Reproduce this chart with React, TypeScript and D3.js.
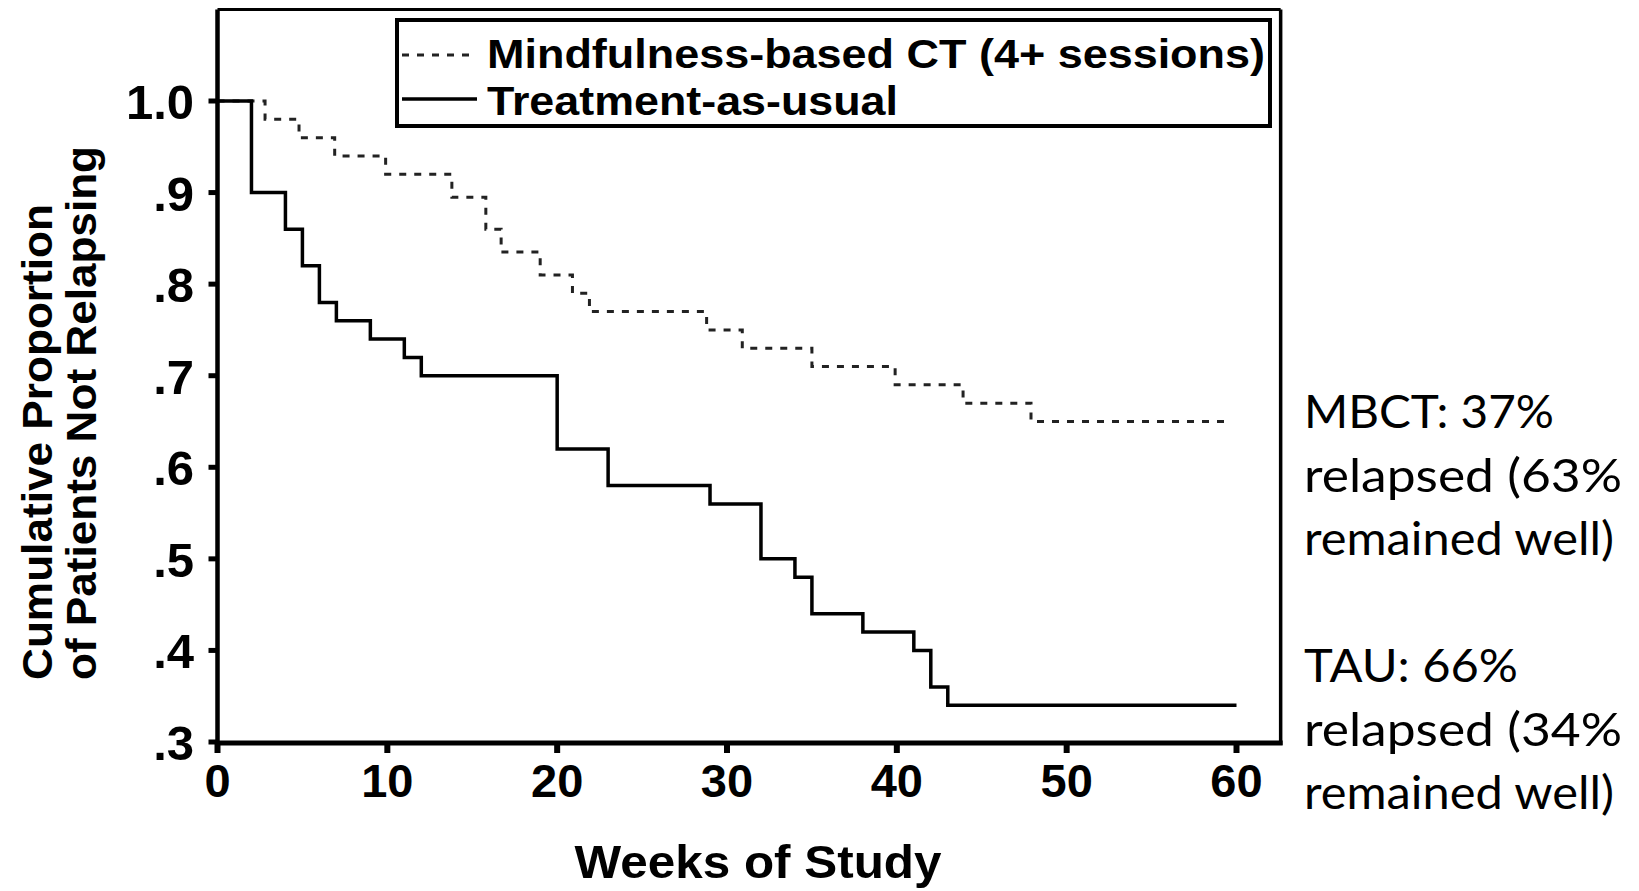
import React from 'react'
import * as d3 from 'd3'

// survival curves (weeks, proportion not relapsing)
const tauWeeks = [0, 2, 4, 5, 6, 7, 9, 11, 12, 20, 23, 29, 32, 34, 35, 38, 41, 42, 43, 60]
const tauValues = [1.0, 0.9, 0.86, 0.82, 0.78, 0.76, 0.74, 0.72, 0.7, 0.62, 0.58, 0.56, 0.5, 0.48, 0.44, 0.42, 0.4, 0.36, 0.34, 0.34]

const mbctWeeks = [0, 2.8, 4.8, 6.9, 9.9, 13.8, 15.8, 16.7, 19, 20.9, 21.9, 28.8, 30.9, 35, 39.9, 43.9, 47.9, 59.5]
const mbctValues = [1.0, 0.98, 0.96, 0.94, 0.92, 0.895, 0.86, 0.835, 0.81, 0.79, 0.77, 0.75, 0.73, 0.71, 0.69, 0.67, 0.65, 0.65]

const xTicks = [0, 10, 20, 30, 40, 50, 60]
const yTicks = [0.3, 0.4, 0.5, 0.6, 0.7, 0.8, 0.9, 1.0]
const yTickLabels = ['.3', '.4', '.5', '.6', '.7', '.8', '.9', '1.0']

const legendLabels = ['Mindfulness-based CT (4+ sessions)', 'Treatment-as-usual']
const noteLines = ['MBCT: 37%', 'relapsed (63%', 'remained well)', '', 'TAU: 66%', 'relapsed (34%', 'remained well)']

const W = 1639, H = 891
const BOLD = "'Liberation Sans', Arial, Helvetica, sans-serif"

const x = d3.scaleLinear().domain([0, 60]).range([217.5, 1236.5])
const y = d3.scaleLinear().domain([0.3, 1.0]).range([742, 101])

const stepLine = d3.line<[number, number]>()
    .x(d => x(d[0]))
    .y(d => y(d[1]))
    .curve(d3.curveStepAfter)

const Frame = () => {
    const left = x(0), right = x(62.6), top = y(1.1), bottom = y(0.3) + 1
    return (
        <g stroke="#000" fill="none">
            <line x1={left} y1={top} x2={right} y2={top} strokeWidth={3} />
            <line x1={right} y1={top} x2={right} y2={bottom + 2} strokeWidth={3.5} />
            <line x1={left} y1={top} x2={left} y2={bottom + 2} strokeWidth={4.5} />
            <line x1={left - 2} y1={bottom} x2={right + 2} y2={bottom} strokeWidth={5} />
        </g>
    )
}

const YAxis = () => (
    <g>
        {yTicks.map((v, i) => (
            <g key={v}>
                <line x1={x(0) - 9} x2={x(0)} y1={y(v)} y2={y(v)} stroke="#000" strokeWidth={5} />
                <text x={194} y={y(v) + 18} textAnchor="end" fontFamily={BOLD} fontWeight="bold" fontSize={49}>
                    {yTickLabels[i]}
                </text>
            </g>
        ))}
        <text transform={`translate(52,680) rotate(-90)`} fontFamily={BOLD} fontWeight="bold" fontSize={42}
            textLength={476} lengthAdjust="spacingAndGlyphs">Cumulative Proportion</text>
        <text transform={`translate(96,680) rotate(-90)`} fontFamily={BOLD} fontWeight="bold" fontSize={42}
            textLength={534} lengthAdjust="spacingAndGlyphs">of Patients Not Relapsing</text>
    </g>
)

const XAxis = () => (
    <g>
        {xTicks.map(t => (
            <g key={t}>
                <line x1={x(t)} x2={x(t)} y1={743} y2={753} stroke="#000" strokeWidth={6} />
                <text x={x(t)} y={797} textAnchor="middle" fontFamily={BOLD} fontWeight="bold" fontSize={47}>{t}</text>
            </g>
        ))}
        <text x={758} y={878} textAnchor="middle" fontFamily={BOLD} fontWeight="bold" fontSize={47}
            textLength={367} lengthAdjust="spacingAndGlyphs">Weeks of Study</text>
    </g>
)

const Legend = () => (
    <g>
        <rect x={397} y={20} width={873} height={106} fill="#fff" stroke="#000" strokeWidth={4} />
        <line x1={402} x2={477} y1={55} y2={55} stroke="#222" strokeWidth={3} strokeDasharray="7,8" />
        <line x1={402} x2={477} y1={99} y2={99} stroke="#000" strokeWidth={3.5} />
        <text x={487} y={68} fontFamily={BOLD} fontWeight="bold" fontSize={41}
            textLength={778} lengthAdjust="spacingAndGlyphs">{legendLabels[0]}</text>
        <text x={487} y={115} fontFamily={BOLD} fontWeight="bold" fontSize={41}
            textLength={411} lengthAdjust="spacingAndGlyphs">{legendLabels[1]}</text>
    </g>
)

const noteWidths: Record<string, number> = {
    'MBCT: 37%': 250, 'relapsed (63%': 318, 'remained well)': 310, 'TAU: 66%': 214, 'relapsed (34%': 318
}

const Notes = () => (
    <g fontFamily="Lato, 'Noto Sans', sans-serif" fontSize={46} fill="#000">
        {noteLines.map((t, i) => t === '' ? null : (
            <text key={i} x={1304} y={428 + i * 63.5} textLength={noteWidths[t]} lengthAdjust="spacingAndGlyphs">{t}</text>
        ))}
    </g>
)

export default function App() {
    const tau = tauWeeks.map((w, i) => [w, tauValues[i]] as [number, number])
    const mbct = mbctWeeks.map((w, i) => [w, mbctValues[i]] as [number, number])
    return (
        <svg width={W} height={H} style={{ position: 'absolute', left: 0, top: 0, background: '#fff' }}>
            <rect width={W} height={H} fill="#fff" />
            <path d={stepLine(mbct) || ''} fill="none" stroke="#222" strokeWidth={3} strokeDasharray="7,8" />
            <path d={stepLine(tau) || ''} fill="none" stroke="#000" strokeWidth={3.5} />
            <Frame />
            <YAxis />
            <XAxis />
            <Legend />
            <Notes />
        </svg>
    )
}
